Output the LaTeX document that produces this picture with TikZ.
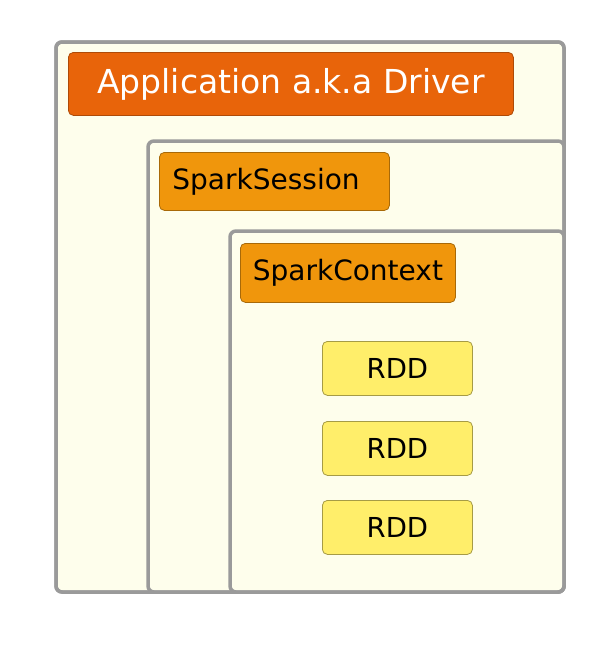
\documentclass[tikz,border=0pt]{standalone}
\usepackage{fontspec}
\setmainfont{DejaVu Sans}
\definecolor{cream}{HTML}{FEFEEC}
\definecolor{frame}{HTML}{9A9A9A}
\definecolor{appor}{HTML}{E8640A}
\definecolor{sessor}{HTML}{F0960C}
\definecolor{rddy}{HTML}{FFEE6A}
\begin{document}
\begin{tikzpicture}[x=1pt,y=-1pt,
  frm/.style={draw=frame,line width=3.5pt,fill=cream,rounded corners=6pt},
  lbl/.style={rounded corners=5pt,inner sep=0pt,anchor=north west,
    line width=0.8pt},
  appbox/.style={lbl,fill=appor,draw=appor!75!black,text=white,font=\fontsize{33}{36}\selectfont},
  sessbox/.style={lbl,fill=sessor,draw=sessor!70!black,text=black,font=\fontsize{28}{32}\selectfont},
  rddbox/.style={lbl,fill=rddy,draw=rddy!65!black,text=black,font=\fontsize{27.5}{32}\selectfont}]
\useasboundingbox (0,0) rectangle (597,646);
\fill[white] (0,0) rectangle (597,646);
\draw[frm] (56,42) rectangle (564,592);
\draw[frm] (148,141) rectangle (564,592);
\draw[frm] (230,231) rectangle (564,592);
\draw[draw=frame,line width=3.5pt,rounded corners=6pt] (56,42) rectangle (564,592);
\node[appbox,minimum width=445pt,minimum height=63pt] (app) at (68,52) {Application a.k.a Driver};
\node[sessbox,minimum width=230pt,minimum height=58pt,text width=204pt,inner xsep=13pt,align=left] (sess) at (159,152) {SparkSession};
\node[sessbox,minimum width=215pt,minimum height=59pt] (ctx) at (240,243) {SparkContext};
\node[rddbox,minimum width=150pt,minimum height=54pt] (rdd1) at (322,341) {RDD};
\node[rddbox,minimum width=150pt,minimum height=54pt] (rdd2) at (322,421) {RDD};
\node[rddbox,minimum width=150pt,minimum height=54pt] (rdd3) at (322,500) {RDD};
\end{tikzpicture}
\end{document}
